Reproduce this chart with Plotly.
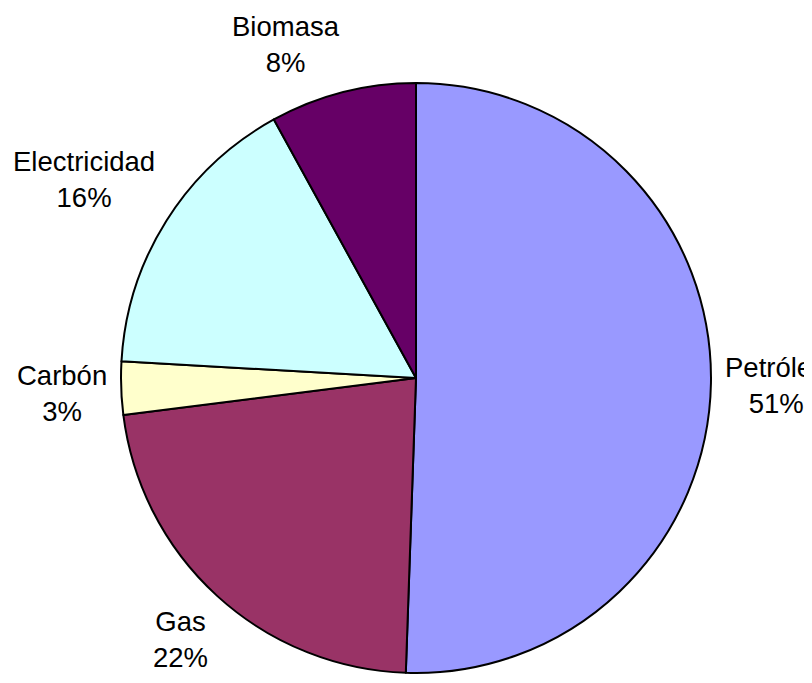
import math
import plotly.graph_objects as go

categories = ["Petróleo", "Gas", "Carbón", "Electricidad", "Biomasa"]
values = [50.55, 22.45, 2.9, 16.1, 8.0]
colors = ["#9999FF", "#993366", "#FFFFCC", "#CCFFFF", "#660066"]

# page body has an 8px default margin, so the figure is sized/offset for it
W, H = 804, 675
cx, cy, r = 408, 370, 295  # pixel centre/radius of pie inside the figure
FONT = 27.5
FAMILY = "Liberation Sans, Arial"

fig = go.Figure(go.Pie(
    labels=categories,
    values=values,
    sort=False,
    direction="clockwise",
    rotation=0,
    marker=dict(colors=colors, line=dict(color="black", width=2)),
    textinfo="none",
    hoverinfo="label+percent",
    domain=dict(x=[(cx - r) / W, (cx + r) / W],
                y=[(H - cy - r) / H, (H - cy + r) / H]),
    showlegend=False,
))

# approximate Arial advance widths (per 1000 em) for label-box sizing
AW = {"P": 667, "e": 556, "t": 278, "r": 333, "ó": 556, "l": 222, "o": 556,
      "G": 778, "a": 556, "s": 500, "C": 722, "b": 556, "n": 556, "E": 667,
      "c": 500, "i": 222, "d": 556, "B": 667, "m": 833, "%": 889}


def text_w(s):
    return sum(AW.get(ch, 556) for ch in s) / 1000 * FONT


total = sum(values)
annotations = []
cum = 0.0
gap = 14
half_h = 1.3 * FONT * 2 / 2 - 2
for name, v in zip(categories, values):
    mid = (cum + v / 2) / total * 2 * math.pi
    cum += v
    pct = f"{round(v / total * 100)}%"
    sx, sy = math.sin(mid), -math.cos(mid)
    px = cx + (r + gap) * sx
    py = cy + (r + gap) * sy
    w = max(text_w(name), text_w(pct))
    fx = max(-1, min(1, 4 * sx))
    fy = max(-1, min(1, 4 * sy))
    lx = px + fx * w / 2
    ly = py + fy * half_h
    annotations.append(dict(
        x=lx / W, y=1 - ly / H, xref="paper", yref="paper",
        text=f"{name}<br>{pct}", showarrow=False,
        xanchor="center", yanchor="middle", align="center",
        font=dict(family=FAMILY, size=FONT, color="black"),
    ))

fig.update_layout(
    width=W, height=H,
    margin=dict(l=0, r=0, t=0, b=0),
    paper_bgcolor="white",
    plot_bgcolor="white",
    font=dict(family=FAMILY, size=FONT, color="black"),
    annotations=annotations,
)

fig.write_html("out.html")
